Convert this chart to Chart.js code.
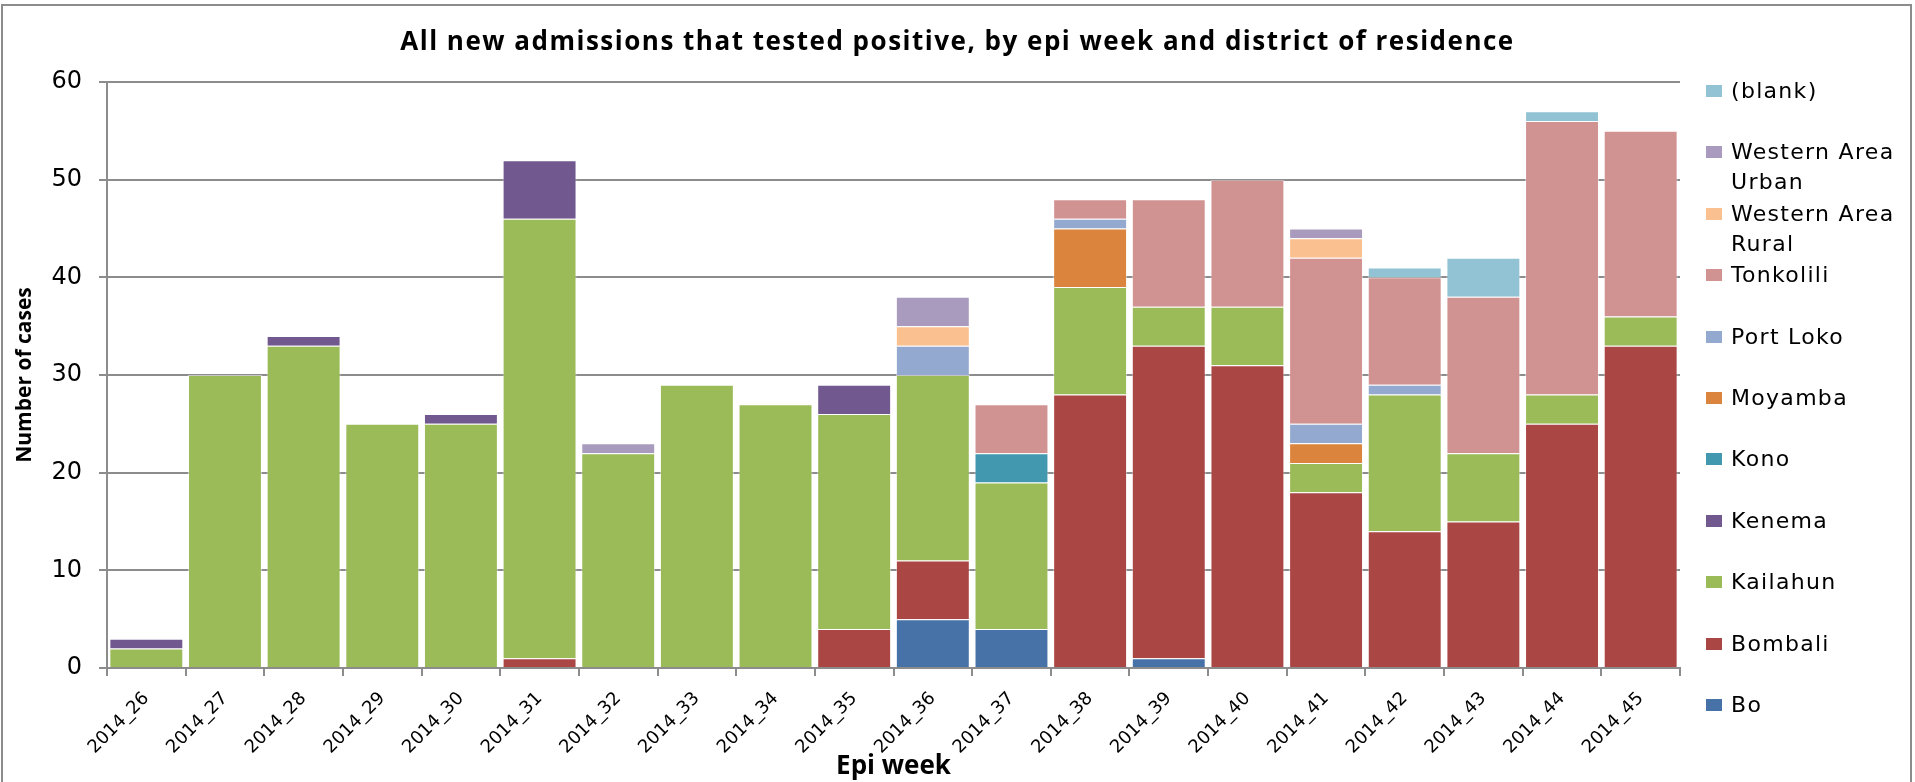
<!DOCTYPE html>
<html>
<head>
<meta charset="utf-8">
<title>New admissions by epi week</title>
<script src="https://cdn.jsdelivr.net/npm/chart.js@4.4.1/dist/chart.umd.min.js"></script>
<style>
    html, body { margin: 0; padding: 0; background: #fff; }
    #wrap { position: relative; width: 1915px; height: 782px; overflow: hidden; }
    #frame { position: absolute; left: 1px; top: 4px; width: 1911px; height: 800px; border: 2px solid #8c8c8c; box-sizing: border-box; }
    #chart { position: absolute; left: 0; top: 0; }
    #title { position: absolute; left: 0; top: 23px; width: 1915px; text-align: center;
             font: bold 26px 'Open Sans', sans-serif; letter-spacing: 1.5px; line-height: 34px; color: #000; }
    #legend { position: absolute; left: 1706px; top: 0; }
    .item { position: absolute; left: 0; display: flex; align-items: flex-start; }
    .box { width: 16px; height: 12px; margin-top: 9px; flex: none; }
    .lbl { margin-left: 9px; width: 190px; font: 22px 'DejaVu Sans', sans-serif; letter-spacing: 1.3px;
           line-height: 30px; color: #000; }
</style>
</head>
<body>
<div id="wrap">
    <div id="frame"></div>
    <canvas id="chart" width="1915" height="782"></canvas>
    <div id="title">All new admissions that tested positive, by epi week and district of residence</div>
    <div id="legend"></div>
</div>
<script>
// epi weeks on the x axis
var weeks = ['2014_26', '2014_27', '2014_28', '2014_29', '2014_30', '2014_31', '2014_32', '2014_33', '2014_34', '2014_35',
             '2014_36', '2014_37', '2014_38', '2014_39', '2014_40', '2014_41', '2014_42', '2014_43', '2014_44', '2014_45'];

// cases per district, stacked bottom to top in this order
var bo         = [0, 0, 0, 0, 0, 0, 0, 0, 0, 0, 5, 4, 0, 1, 0, 0, 0, 0, 0, 0];
var bombali    = [0, 0, 0, 0, 0, 1, 0, 0, 0, 4, 6, 0, 28, 32, 31, 18, 14, 15, 25, 33];
var kailahun   = [2, 30, 33, 25, 25, 45, 22, 29, 27, 22, 19, 15, 11, 4, 6, 3, 14, 7, 3, 3];
var kenema     = [1, 0, 1, 0, 1, 6, 0, 0, 0, 3, 0, 0, 0, 0, 0, 0, 0, 0, 0, 0];
var kono       = [0, 0, 0, 0, 0, 0, 0, 0, 0, 0, 0, 3, 0, 0, 0, 0, 0, 0, 0, 0];
var moyamba    = [0, 0, 0, 0, 0, 0, 0, 0, 0, 0, 0, 0, 6, 0, 0, 2, 0, 0, 0, 0];
var portLoko   = [0, 0, 0, 0, 0, 0, 0, 0, 0, 0, 3, 0, 1, 0, 0, 2, 1, 0, 0, 0];
var tonkolili  = [0, 0, 0, 0, 0, 0, 0, 0, 0, 0, 0, 5, 2, 11, 13, 17, 11, 16, 28, 19];
var waRural    = [0, 0, 0, 0, 0, 0, 0, 0, 0, 0, 2, 0, 0, 0, 0, 2, 0, 0, 0, 0];
var waUrban    = [0, 0, 0, 0, 0, 0, 1, 0, 0, 0, 3, 0, 0, 0, 0, 1, 0, 0, 0, 0];
var blank      = [0, 0, 0, 0, 0, 0, 0, 0, 0, 0, 0, 0, 0, 0, 0, 0, 1, 4, 1, 0];

var districts = ['Bo', 'Bombali', 'Kailahun', 'Kenema', 'Kono', 'Moyamba', 'Port Loko', 'Tonkolili',
                 'Western Area Rural', 'Western Area Urban', '(blank)'];
var series = [bo, bombali, kailahun, kenema, kono, moyamba, portLoko, tonkolili, waRural, waUrban, blank];
var colors = ['#4672A8', '#AA4644', '#9BBB59', '#71588F', '#4198AF', '#DB843D', '#93A9CF', '#D19392',
              '#FAC090', '#A99BBD', '#92C3D4'];

var gray = '#8c8c8c';

var datasets = districts.map(function(name, i) {
    return {
        label: name,
        data: series[i],
        backgroundColor: colors[i],
        borderColor: 'rgba(255, 255, 255, 0.5)',
        borderWidth: 1,
        barPercentage: 0.94,
        categoryPercentage: 1
    };
});

var ctx = document.getElementById('chart').getContext('2d');
var myChart = new Chart(ctx, {
    type: 'bar',
    data: { labels: weeks, datasets: datasets },
    options: {
        responsive: false,
        animation: false,
        layout: { padding: { top: 82, right: 235, left: 0, bottom: 0 } },
        plugins: {
            legend: { display: false },
            title: { display: false },
            tooltip: { enabled: false }
        },
        scales: {
            x: {
                stacked: true,
                grid: { offset: true, drawOnChartArea: false, drawTicks: true, tickLength: 8, color: gray, lineWidth: 2 },
                border: { color: gray, width: 2 },
                ticks: {
                    minRotation: 45, maxRotation: 45, autoSkip: false, padding: 12, color: '#000',
                    font: { family: 'DejaVu Sans', size: 18 }
                },
                title: {
                    display: true, text: 'Epi week', color: '#000',
                    font: { family: 'Open Sans', weight: 'bold', size: 26 },
                    padding: { top: 0, bottom: 0 }
                },
                afterFit: function(scale) { scale.height = 114; }
            },
            y: {
                stacked: true,
                min: 0,
                max: 60,
                grid: { color: gray, lineWidth: 2, tickLength: 8 },
                border: { color: gray, width: 2 },
                ticks: {
                    stepSize: 10, padding: 17, color: '#000',
                    font: { family: 'DejaVu Sans', size: 24 }
                },
                title: {
                    display: true, text: 'Number of cases', color: '#000',
                    font: { family: 'Open Sans', weight: 'bold', size: 21 },
                    padding: { top: 12, bottom: 0 }
                },
                afterFit: function(scale) { scale.width = 107; }
            }
        }
    }
});

// legend on the right, top entry is the last series
var legend = document.getElementById('legend');
for (var k = districts.length - 1; k >= 0; k--) {
    var row = districts.length - 1 - k;
    var item = document.createElement('div');
    item.className = 'item';
    item.style.top = (91 + row * 61.4 - 15) + 'px';
    var box = document.createElement('div');
    box.className = 'box';
    box.style.background = colors[k];
    var lbl = document.createElement('div');
    lbl.className = 'lbl';
    lbl.textContent = districts[k];
    item.appendChild(box);
    item.appendChild(lbl);
    legend.appendChild(item);
}
</script>
</body>
</html>
